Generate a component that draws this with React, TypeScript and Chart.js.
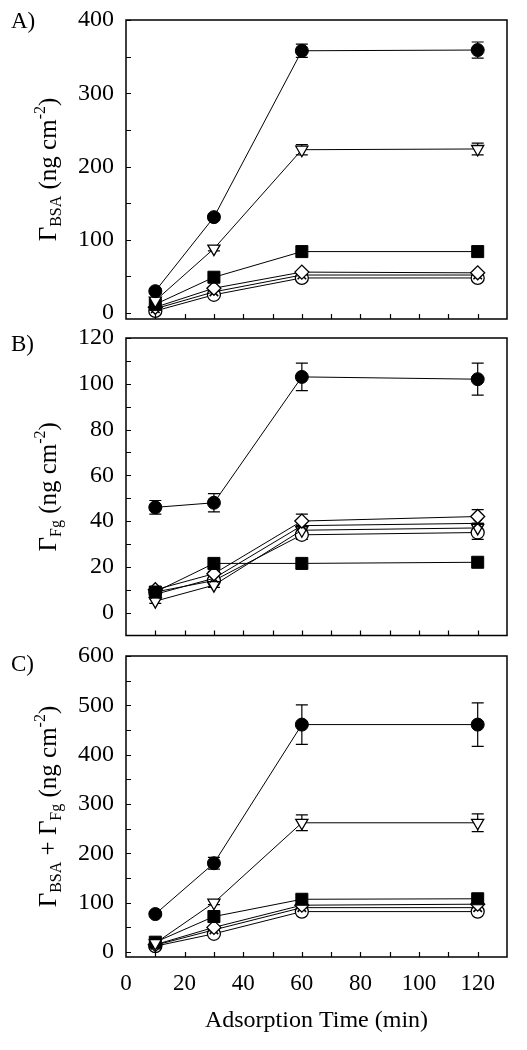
import React, { useEffect, useRef } from 'react';
import { Chart, registerables } from 'chart.js';
Chart.register(...registerables);

// ---------- data ----------
const TIMES = [10, 30, 60, 120];
const X_TICK_MARKS = [10, 20, 30, 40, 50, 60, 70, 80, 90, 100, 110, 120];
const X_TICK_LABELS = [0, 20, 40, 60, 80, 100, 120];
const X_TITLE = 'Adsorption Time (min)';

// Panel A: Γ_BSA
const A_Y_LABELS = [0, 100, 200, 300, 400];
const A_Y_MINOR = [50, 150, 250, 350];
const A_CIRCLE = [30, 131, 358, 359];
const A_CIRCLE_ERR = [3, 4, 9, 11];
const A_TRIANGLE = [17, 88, 223, 224];
const A_TRIANGLE_ERR = [2, 3, 7, 8];
const A_SQUARE = [12, 49, 84, 84];
const A_DIAMOND = [8, 34, 56, 55];
const A_CROSS = [6, 29, 52, 52];
const A_OPEN = [3, 25, 48, 48];

// Panel B: Γ_Fg
const B_Y_LABELS = [0, 20, 40, 60, 80, 100, 120];
const B_Y_MINOR = [10, 30, 50, 70, 90, 110];
const B_CIRCLE = [46, 48, 103, 102];
const B_CIRCLE_ERR = [3, 4, 6, 7];
const B_TRIANGLE = [5, 12, 36, 37];
const B_TRIANGLE_ERR = [1, 1, 2, 2];
const B_SQUARE = [9, 21.5, 21.5, 22];
const B_DIAMOND = [10, 17, 40, 42];
const B_DIAMOND_ERR = [1, 1, 3, 3];
const B_CROSS = [8, 15, 38, 39];
const B_OPEN = [9, 14, 34, 35];
const B_OPEN_ERR = [1, 1, 2, 3];

// Panel C: Γ_BSA + Γ_Fg
const C_Y_LABELS = [0, 100, 200, 300, 400, 500, 600];
const C_Y_MINOR = [50, 150, 250, 350, 450, 550];
const C_CIRCLE = [77, 180, 461, 461];
const C_CIRCLE_ERR = [5, 12, 40, 44];
const C_TRIANGLE = [18, 100, 262, 262];
const C_TRIANGLE_ERR = [2, 4, 16, 18];
const C_SQUARE = [20, 72, 107, 108];
const C_DIAMOND = [15, 50, 95, 97];
const C_CROSS = [14, 45, 90, 90];
const C_OPEN = [12, 37, 82, 82];

// ---------- styles ----------
const FONT = '"Liberation Serif", "Times New Roman", serif';

const MARKERS: Record<string, any> = {
  circle: { pointStyle: 'circle', pointRadius: 6.5, pointBackgroundColor: '#000', pointBorderWidth: 1, pointRotation: 0 },
  triangle: { pointStyle: 'triangle', pointRadius: 7, pointBackgroundColor: '#fff', pointBorderWidth: 1.3, pointRotation: 180 },
  square: { pointStyle: 'rect', pointRadius: 8.5, pointBackgroundColor: '#000', pointBorderWidth: 1, pointRotation: 0 },
  diamond: { pointStyle: 'rectRot', pointRadius: 7, pointBackgroundColor: '#fff', pointBorderWidth: 1.3, pointRotation: 0 },
  cross: { pointStyle: 'crossRot', pointRadius: 6, pointBackgroundColor: '#000', pointBorderWidth: 1.6, pointRotation: 0 },
  open: { pointStyle: 'circle', pointRadius: 6.5, pointBackgroundColor: '#fff', pointBorderWidth: 1.3, pointRotation: 0 },
};

type Part = { t: string; k: 'n' | 'sub' | 'sup' };

type PanelDef = {
  top: number;
  height: number;
  areaTop: number;
  areaBottom: number;
  yMin: number;
  yMax: number;
  yLabels: number[];
  yMinor: number[];
  label: string;
  labelY: number;
  title: Part[];
  showX: boolean;
  series: { key: string; values: number[]; err?: number[] }[];
};

const PANELS: PanelDef[] = [
  {
    top: 0, height: 330, areaTop: 20, areaBottom: 319, yMin: -8, yMax: 400,
    yLabels: A_Y_LABELS, yMinor: A_Y_MINOR, label: 'A)', labelY: 22,
    title: [{ t: 'Γ', k: 'n' }, { t: 'BSA', k: 'sub' }, { t: ' (ng cm', k: 'n' }, { t: '-2', k: 'sup' }, { t: ')', k: 'n' }],
    showX: false,
    series: [
      { key: 'circle', values: A_CIRCLE, err: A_CIRCLE_ERR },
      { key: 'triangle', values: A_TRIANGLE, err: A_TRIANGLE_ERR },
      { key: 'square', values: A_SQUARE },
      { key: 'diamond', values: A_DIAMOND },
      { key: 'cross', values: A_CROSS },
      { key: 'open', values: A_OPEN },
    ],
  },
  {
    top: 320, height: 325, areaTop: 18, areaBottom: 318, yMin: -10, yMax: 120,
    yLabels: B_Y_LABELS, yMinor: B_Y_MINOR, label: 'B)', labelY: 25,
    title: [{ t: 'Γ', k: 'n' }, { t: 'Fg', k: 'sub' }, { t: ' (ng cm', k: 'n' }, { t: '-2', k: 'sup' }, { t: ')', k: 'n' }],
    showX: false,
    series: [
      { key: 'circle', values: B_CIRCLE, err: B_CIRCLE_ERR },
      { key: 'square', values: B_SQUARE },
      { key: 'diamond', values: B_DIAMOND, err: B_DIAMOND_ERR },
      { key: 'cross', values: B_CROSS },
      { key: 'triangle', values: B_TRIANGLE, err: B_TRIANGLE_ERR },
      { key: 'open', values: B_OPEN, err: B_OPEN_ERR },
    ],
  },
  {
    top: 640, height: 410, areaTop: 16, areaBottom: 317, yMin: -10, yMax: 600,
    yLabels: C_Y_LABELS, yMinor: C_Y_MINOR, label: 'C)', labelY: 25,
    title: [
      { t: 'Γ', k: 'n' }, { t: 'BSA', k: 'sub' }, { t: ' + Γ', k: 'n' }, { t: 'Fg', k: 'sub' },
      { t: ' (ng cm', k: 'n' }, { t: '-2', k: 'sup' }, { t: ')', k: 'n' },
    ],
    showX: true,
    series: [
      { key: 'circle', values: C_CIRCLE, err: C_CIRCLE_ERR },
      { key: 'triangle', values: C_TRIANGLE, err: C_TRIANGLE_ERR },
      { key: 'square', values: C_SQUARE },
      { key: 'diamond', values: C_DIAMOND },
      { key: 'cross', values: C_CROSS },
      { key: 'open', values: C_OPEN },
    ],
  },
];

const PLOT_LEFT = 126;
const PLOT_RIGHT = 507;
const W = 527;

function drawRich(ctx: CanvasRenderingContext2D, parts: Part[], cx: number, cy: number) {
  const fontFor = (k: string) => (k === 'n' ? `25px ${FONT}` : `16px ${FONT}`);
  const widths = parts.map((p) => {
    ctx.font = fontFor(p.k);
    return ctx.measureText(p.t).width;
  });
  const total = widths.reduce((a, b) => a + b, 0);
  ctx.save();
  ctx.translate(cx, cy);
  ctx.rotate(-Math.PI / 2);
  ctx.fillStyle = '#000';
  ctx.textBaseline = 'alphabetic';
  ctx.textAlign = 'left';
  let x = -total / 2;
  parts.forEach((p, i) => {
    ctx.font = fontFor(p.k);
    const dy = p.k === 'sub' ? 5 : p.k === 'sup' ? -11 : 0;
    ctx.fillText(p.t, x, dy);
    x += widths[i];
  });
  ctx.restore();
}

function Panel({ def }: { def: PanelDef }) {
  const ref = useRef<HTMLCanvasElement>(null);
  useEffect(() => {
    const canvas = ref.current!;
    const decor = {
      id: 'decor',
      beforeDatasetsDraw(chart: any) {
        const ctx = chart.ctx as CanvasRenderingContext2D;
        const ys = chart.scales.y;
        ctx.save();
        ctx.strokeStyle = '#000';
        ctx.lineWidth = 1.2;
        chart.data.datasets.forEach((ds: any, i: number) => {
          if (!ds.errors) return;
          const meta = chart.getDatasetMeta(i);
          ds.errors.forEach((e: number, j: number) => {
            const pt = meta.data[j];
            const v = ds.data[j].y;
            const y1 = ys.getPixelForValue(v + e);
            const y2 = ys.getPixelForValue(v - e);
            ctx.beginPath();
            ctx.moveTo(pt.x, y1);
            ctx.lineTo(pt.x, y2);
            ctx.moveTo(pt.x - 6, y1);
            ctx.lineTo(pt.x + 6, y1);
            ctx.moveTo(pt.x - 6, y2);
            ctx.lineTo(pt.x + 6, y2);
            ctx.stroke();
          });
        });
        ctx.restore();
      },
      afterDraw(chart: any) {
        const ctx = chart.ctx as CanvasRenderingContext2D;
        const a = chart.chartArea;
        const ys = chart.scales.y;
        const xs = chart.scales.x;
        ctx.save();
        ctx.strokeStyle = '#000';
        ctx.lineWidth = 1.5;
        ctx.strokeRect(a.left, a.top, a.right - a.left, a.bottom - a.top);
        ctx.lineWidth = 1.2;
        ctx.beginPath();
        [...def.yLabels, ...def.yMinor].forEach((v) => {
          const y = Math.round(ys.getPixelForValue(v)) + 0.5;
          ctx.moveTo(a.left, y);
          ctx.lineTo(a.left + 5, y);
        });
        X_TICK_MARKS.forEach((v) => {
          const x = Math.round(xs.getPixelForValue(v)) + 0.5;
          ctx.moveTo(x, a.bottom);
          ctx.lineTo(x, a.bottom - 5);
        });
        ctx.stroke();
        ctx.fillStyle = '#000';
        ctx.font = `23px ${FONT}`;
        ctx.textAlign = 'left';
        ctx.textBaseline = 'middle';
        ctx.fillText(def.label, 11, def.labelY);
        drawRich(ctx, def.title, 56, (a.top + a.bottom) / 2);
        if (def.showX) {
          ctx.font = `24px ${FONT}`;
          ctx.textAlign = 'center';
          ctx.textBaseline = 'middle';
          ctx.fillText(X_TITLE, (a.left + a.right) / 2, 1021 - def.top);
        }
        ctx.restore();
      },
    };

    const chart = new Chart(canvas, {
      type: 'line',
      data: {
        datasets: def.series.map((s) => ({
          data: s.values.map((v, i) => ({ x: TIMES[i], y: v })) as any,
          errors: s.err,
          borderColor: '#000',
          borderWidth: 1,
          pointBorderColor: '#000',
          ...MARKERS[s.key],
          fill: false,
          tension: 0,
        })) as any,
      },
      options: {
        responsive: false,
        maintainAspectRatio: false,
        animation: false,
        devicePixelRatio: 1,
        layout: { padding: { top: def.areaTop, right: W - PLOT_RIGHT, bottom: 0, left: 0 } },
        plugins: { legend: { display: false }, tooltip: { enabled: false }, title: { display: false } },
        scales: {
          x: {
            type: 'linear',
            min: 0,
            max: 130,
            grid: { display: false },
            border: { display: false },
            afterBuildTicks: (scale: any) => {
              scale.ticks = X_TICK_LABELS.map((v) => ({ value: v }));
            },
            afterFit: (scale: any) => {
              scale.height = def.height - def.areaBottom;
              scale.paddingLeft = 0;
              scale.paddingRight = 0;
            },
            ticks: {
              display: def.showX,
              autoSkip: false,
              maxRotation: 0,
              padding: 5,
              color: '#000',
              font: { family: FONT, size: 23 },
              callback: (v: any) => String(v),
            },
          },
          y: {
            type: 'linear',
            min: def.yMin,
            max: def.yMax,
            grid: { display: false },
            border: { display: false },
            afterBuildTicks: (scale: any) => {
              scale.ticks = def.yLabels.map((v) => ({ value: v }));
            },
            afterFit: (scale: any) => {
              scale.width = PLOT_LEFT;
              scale.paddingTop = 0;
              scale.paddingBottom = 0;
            },
            ticks: {
              autoSkip: false,
              padding: 4,
              color: '#000',
              font: { family: FONT, size: 24 },
              callback: (v: any) => String(v),
            },
          },
        },
      } as any,
      plugins: [decor],
    });
    return () => chart.destroy();
  }, []);
  return (
    <canvas
      ref={ref}
      width={W}
      height={def.height}
      style={{ position: 'absolute', left: 0, top: def.top, width: W, height: def.height }}
    />
  );
}

export default function App() {
  return (
    <div style={{ position: 'absolute', left: 0, top: 0, width: W, height: 1050, background: '#fff' }}>
      {PANELS.map((p, i) => (
        <Panel key={i} def={p} />
      ))}
    </div>
  );
}
